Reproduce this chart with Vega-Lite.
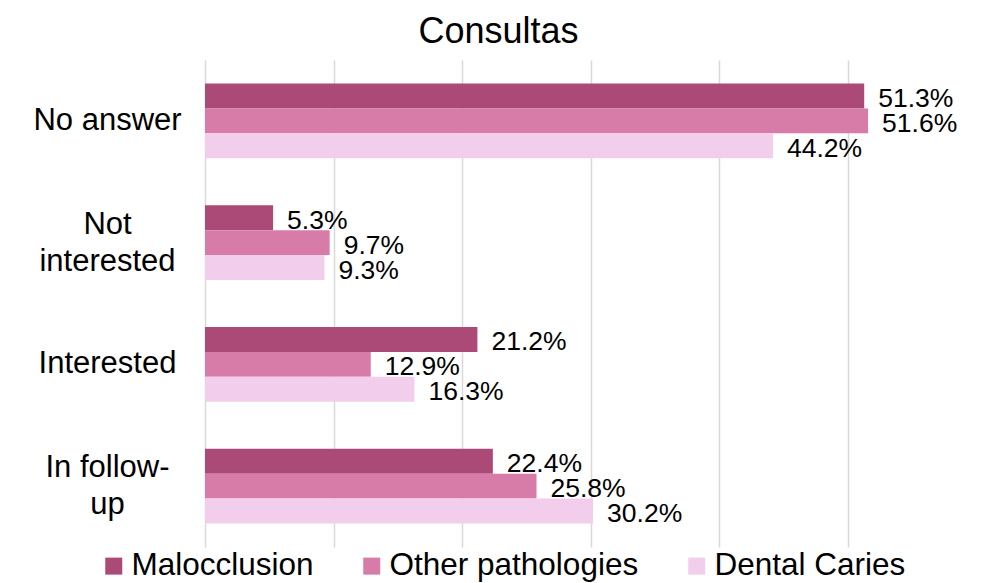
{
  "$schema": "https://vega.github.io/schema/vega-lite/v6.json",
  "width": 771,
  "height": 487,
  "autosize": {"type": "none"},
  "padding": {"left": 205, "top": 60, "right": 13, "bottom": 36},
  "title": {
    "text": "Consultas",
    "font": "Liberation Sans",
    "fontSize": 36,
    "fontWeight": "normal",
    "color": "#000000",
    "anchor": "middle",
    "dx": -92,
    "offset": 9
  },
  "data": {
    "values": [
      {"category": "No answer", "series": "Malocclusion", "value": 0.513},
      {"category": "No answer", "series": "Other pathologies", "value": 0.516},
      {"category": "No answer", "series": "Dental Caries", "value": 0.442},
      {"category": "Not interested", "series": "Malocclusion", "value": 0.053},
      {"category": "Not interested", "series": "Other pathologies", "value": 0.097},
      {"category": "Not interested", "series": "Dental Caries", "value": 0.093},
      {"category": "Interested", "series": "Malocclusion", "value": 0.212},
      {"category": "Interested", "series": "Other pathologies", "value": 0.129},
      {"category": "Interested", "series": "Dental Caries", "value": 0.163},
      {"category": "In follow-up", "series": "Malocclusion", "value": 0.224},
      {"category": "In follow-up", "series": "Other pathologies", "value": 0.258},
      {"category": "In follow-up", "series": "Dental Caries", "value": 0.302}
    ]
  },
  "encoding": {
    "y": {
      "field": "category",
      "type": "nominal",
      "sort": ["No answer", "Not interested", "Interested", "In follow-up"],
      "scale": {"paddingInner": 0.384, "paddingOuter": 0.192},
      "axis": {
        "title": null,
        "domain": false,
        "ticks": false,
        "tickSize": 0,
        "labelPadding": 98,
        "labelAlign": "center",
        "labelBaseline": "middle",
        "labelFont": "Liberation Sans",
        "labelFontSize": 31,
        "labelColor": "#000000",
        "labelLineHeight": 37,
        "labelLimit": 300,
        "labelOffset": {"condition": {"test": "datum.value == 'Not interested' || datum.value == 'In follow-up'", "value": -18}, "value": 0},
        "labelExpr": "datum.value == 'Not interested' ? ['Not', 'interested'] : datum.value == 'In follow-up' ? ['In follow-', 'up'] : datum.value"
      }
    },
    "yOffset": {
      "field": "series",
      "type": "nominal",
      "sort": ["Malocclusion", "Other pathologies", "Dental Caries"],
      "scale": {"paddingInner": 0, "paddingOuter": 0}
    },
    "x": {
      "field": "value",
      "type": "quantitative",
      "scale": {"domain": [0, 0.6], "nice": false, "zero": true},
      "axis": {
        "title": null,
        "values": [0, 0.1, 0.2, 0.3, 0.4, 0.5],
        "labels": false,
        "ticks": false,
        "domain": false,
        "grid": true,
        "gridColor": "#d9d9d9",
        "gridWidth": 1.5
      }
    },
    "color": {
      "field": "series",
      "type": "nominal",
      "sort": ["Malocclusion", "Other pathologies", "Dental Caries"],
      "scale": {
        "domain": ["Malocclusion", "Other pathologies", "Dental Caries"],
        "range": ["#AB4A77", "#D77CA8", "#F3CEEC"]
      },
      "legend": {
        "title": null,
        "orient": "none",
        "direction": "horizontal",
        "legendX": -107,
        "legendY": 490,
        "symbolType": "square",
        "symbolSize": 289,
        "symbolStrokeWidth": 0,
        "symbolOpacity": 1,
        "labelFont": "Liberation Sans",
        "labelFontSize": 31.5,
        "labelColor": "#000000",
        "labelOffset": 2,
        "labelLimit": 400,
        "columnPadding": 42
      }
    }
  },
  "layer": [
    {"mark": {"type": "bar", "opacity": 1}},
    {
      "mark": {
        "type": "text",
        "align": "left",
        "baseline": "middle",
        "dx": 14,
        "dy": 3,
        "font": "Liberation Sans",
        "fontSize": 26.5,
        "color": "#000000"
      },
      "encoding": {
        "text": {"field": "value", "type": "quantitative", "format": ".1%"},
        "color": {"value": "#000000"}
      }
    }
  ],
  "config": {
    "view": {"stroke": null},
    "background": "#ffffff"
  }
}
